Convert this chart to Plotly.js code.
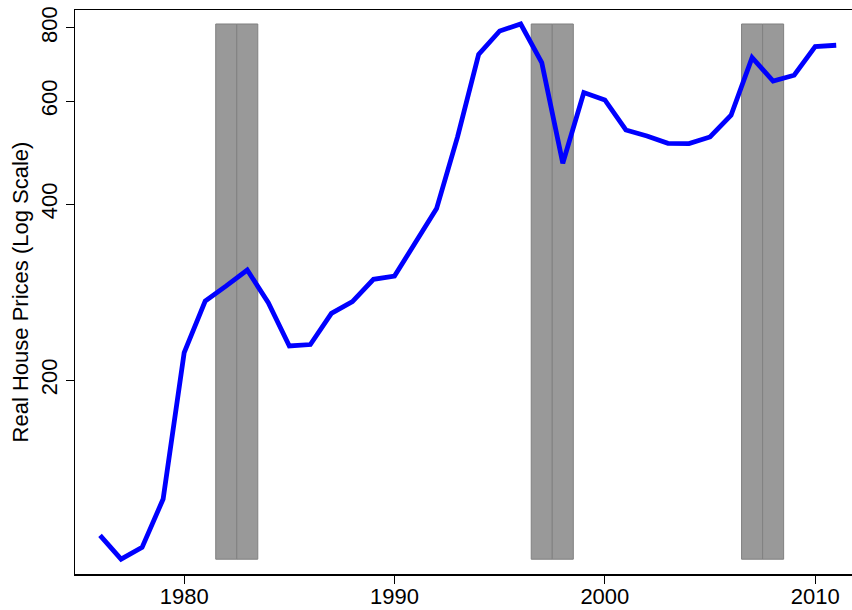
<!DOCTYPE html>
<html>
<head>
<meta charset="utf-8">
<script src="https://cdn.plot.ly/plotly-3.0.1.min.js"></script>
<style>
html,body{margin:0;padding:0;background:#fff;}
#chart{width:852px;height:610px;}
#chart .scatterlayer path.js-line{stroke-linejoin:miter !important;}
</style>
</head>
<body>
<div id="chart"></div>
<script>
// Data
const years = [1976,1977,1978,1979,1980,1981,1982,1983,1984,1985,1986,1987,1988,1989,1990,
               1991,1992,1993,1994,1995,1996,1997,1998,1999,2000,2001,2002,2003,2004,2005,
               2006,2007,2008,2009,2010,2011];
const prices = [108.6,98.9,103.6,125.3,223.0,273.2,289.9,308.6,271.5,228.9,230.2,260.3,272.5,297.6,301.4,
                343.5,393.0,521.8,721.3,790.6,812.7,698.2,469.8,620.4,602.6,535.5,523.0,508.2,507.5,521.0,
                567.4,712.0,649.4,664.2,743.5,747.4];
const recessionYears = [1982,1983,1997,1998,2007,2008];
const xTickVals = [1980,1990,2000,2010];
const yTickVals = [200,400,600,800];
const yTitle = "Real House Prices (Log Scale)";

const lo = Math.min(...prices);
const hi = Math.max(...prices);

const traces = [
  {
    type: 'bar',
    x: recessionYears,
    base: recessionYears.map(() => lo),
    y: recessionYears.map(() => hi - lo),
    width: 1,
    marker: {color: '#999999', line: {color: '#808080', width: 1}},
    hoverinfo: 'skip',
    showlegend: false
  },
  {
    type: 'scatter',
    mode: 'lines',
    x: years,
    y: prices,
    line: {color: '#0000ff', width: 4.8},
    hoverinfo: 'skip',
    showlegend: false
  }
];

const layout = {
  width: 852,
  height: 610,
  margin: {l: 75, r: 0, t: 10, b: 36},
  paper_bgcolor: '#ffffff',
  plot_bgcolor: '#ffffff',
  font: {family: 'Liberation Sans, Arial, sans-serif', size: 22, color: '#000'},
  showlegend: false,
  bargap: 0,
  xaxis: {
    range: [1974.81, 2011.75],
    tickvals: xTickVals,
    ticktext: xTickVals.map(String),
    ticks: 'outside',
    ticklen: 8,
    tickwidth: 1,
    tickcolor: '#000',
    ticklabelstandoff: -6,
    showline: true,
    linecolor: '#000',
    linewidth: 1.5,
    mirror: true,
    showgrid: false,
    zeroline: false,
    tickfont: {size: 22}
  },
  yaxis: {
    type: 'log',
    range: [Math.log10(93.3), Math.log10(858.7)],
    tickvals: yTickVals,
    ticktext: yTickVals.map(String),
    tickangle: -90,
    ticks: 'outside',
    ticklen: 8,
    tickwidth: 1,
    tickcolor: '#000',
    showline: true,
    linecolor: '#000',
    linewidth: 1.5,
    showgrid: false,
    zeroline: false,
    tickfont: {size: 22},
    title: {text: yTitle, font: {size: 22}, standoff: 2}
  }
};

Plotly.newPlot('chart', traces, layout, {displayModeBar: false, staticPlot: true});
</script>
</body>
</html>
